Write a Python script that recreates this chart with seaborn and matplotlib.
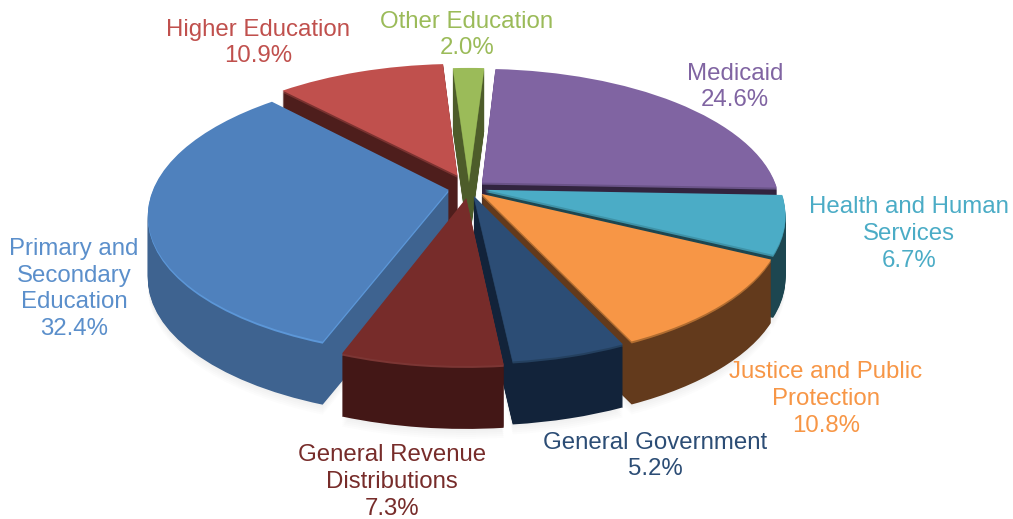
"""Exploded 3D style pie of state spending, built from stacked seaborn/matplotlib pies."""

import matplotlib
matplotlib.use("Agg")
import matplotlib.pyplot as plt
from matplotlib.transforms import Transform
import numpy as np
import seaborn as sns

# clockwise from the top
categories = ["Medicaid", "Health and Human\nServices", "Justice and Public\nProtection",
              "General Government", "General Revenue\nDistributions",
              "Primary and\nSecondary\nEducation", "Higher Education", "Other Education"]
shares = [24.6, 6.7, 10.8, 5.2, 7.3, 32.4, 10.9, 2.0]

top_colors = ["#8064a2", "#4bacc6", "#f79646", "#2c4d75", "#772c2a", "#4f81bd", "#c0504d", "#9bbb59"]
wall_colors = ["#32243f", "#1d4650", "#633a1c", "#12233a", "#431716", "#3e6390", "#4e1e1c", "#4d5c2a"]
rim_colors = ["#6a5388", "#3f93a8", "#b06c30", "#24405f", "#7c3634", "#5c97d8", "#7a3230", "#6d853e"]
text_colors = ["#8064a2", "#4bacc6", "#f79646", "#2c4d75", "#772c2a", "#5b8fcb", "#c0504d", "#9bbb59"]

explode = [0.06, 0.055, 0.06, 0.06, 0.075, 0.07, 0.10, 0.05]
paint_order = [2, 3, 4, 5, 7, 6, 0, 1]  # back slices are painted first
label_pos = [(735, 87), (909, 234), (826, 399), (655, 456), (392, 482), (74, 289), (258, 43), (467, 35)]

CENTER_X, CENTER_Y = 469, 188
SCALE_X, SCALE_Y = 295, 135
TILT = 0.172
DEPTH = 63


class TiltTransform(Transform):
    """Lay a unit pie flat with some perspective, then drop it by drop pixels."""
    input_dims = 2
    output_dims = 2

    def __init__(self, drop=0):
        super().__init__()
        self.drop = drop

    def transform_non_affine(self, values):
        values = np.asarray(values, dtype=float)
        w = 1 + TILT * values[:, 1]
        x = CENTER_X + SCALE_X * values[:, 0] / w
        y = CENTER_Y - SCALE_Y * values[:, 1] / w + self.drop
        return np.column_stack([x, y])


def draw_layer(ax, colors, drop, zorders, **wedge_kw):
    wedges, _ = ax.pie(shares, explode=explode, colors=colors, startangle=86.5,
                       counterclock=False, wedgeprops=dict(linewidth=0, **wedge_kw))
    for wedge, zorder in zip(wedges, zorders):
        wedge.set_transform(TiltTransform(drop) + ax.transData)
        wedge.set_zorder(zorder)


def main():
    sns.set_theme(style="white")
    plt.rcParams["font.family"] = ["Liberation Sans", "DejaVu Sans"]

    fig = plt.figure(figsize=(10.13, 5.19), dpi=100)
    ax = fig.add_axes([0, 0, 1, 1])

    # soft shadow under the pie
    for drop in range(DEPTH + 10, DEPTH, -2):
        draw_layer(ax, ["#000000"] * 8, drop, [0.5] * 8, alpha=0.012)

    ranks = np.array(paint_order) * 1000
    for drop in range(DEPTH, 0, -1):
        colors = rim_colors if drop <= 2 else wall_colors
        draw_layer(ax, colors, drop, ranks + (DEPTH - drop) + 1)
    draw_layer(ax, top_colors, 0, ranks + DEPTH + 2)

    ax.set_aspect("auto")
    ax.set_xlim(0, 1013)
    ax.set_ylim(519, 0)
    ax.axis("off")

    for name, share, color, (x, y) in zip(categories, shares, text_colors, label_pos):
        ax.text(x, y, f"{name}\n{share:.1f}%", color=color, fontsize=17.3, ha="center",
                va="center", linespacing=1.28, zorder=20000)

    fig.savefig("out.png", dpi=100)


if __name__ == "__main__":
    main()
